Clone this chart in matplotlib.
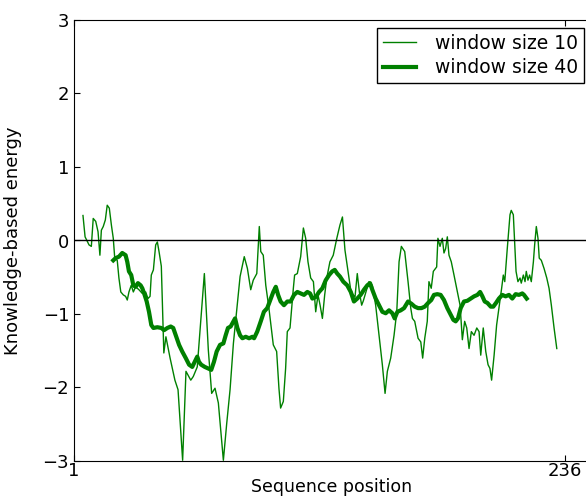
import numpy as np
import matplotlib
matplotlib.use('Agg')
import matplotlib.pyplot as plt

# sequence positions and energies
pos_w10 = [5.3, 6.3, 8.2, 9.3, 10.2, 11.4, 12.5, 13.4, 14.1, 15.0, 16.0, 16.9, 17.9, 18.9,
           19.8, 20.5, 21.7, 22.5, 23.4, 24.6, 25.7, 26.5, 27.3, 28.4, 29.4, 30.5, 32.1,
           33.7, 35.3, 36.4, 37.4, 38.0, 39.0, 40.1, 40.9, 41.7, 42.8, 44.0, 45.0, 47.0,
           49.3, 50.8, 53.0, 54.6, 56.9, 58.1, 60.0, 63.4, 65.3, 66.9, 68.5, 70.1, 72.5,
           74.1, 75.7, 77.3, 78.9, 80.5, 82.5, 84.0, 85.6, 86.8, 88.5, 89.7, 90.4, 91.6,
           92.8, 94.3, 96.4, 98.0, 99.1, 99.9, 101.2, 102.3, 103.1, 104.4, 106.0, 106.6,
           107.9, 109.5, 110.8, 111.9, 113.0, 114.3, 115.6, 116.7, 117.8, 118.8, 119.9,
           121.0, 122.0, 123.5, 125.1, 126.8, 128.3, 129.5, 130.7, 132.3, 133.6, 135.5,
           136.6, 137.6, 138.7, 139.5, 142.2, 143.8, 145.4, 147.0, 148.6, 149.9, 151.0,
           152.6, 154.2, 155.5, 156.6, 157.7, 159.3, 160.9, 162.2, 163.0, 164.1, 165.7,
           167.0, 167.9, 168.9, 170.1, 170.9, 172.0, 173.0, 174.6, 175.2, 176.2, 177.3,
           178.1, 178.9, 179.7, 180.5, 181.6, 182.9, 184.5, 185.8, 186.9, 188.0, 189.0,
           190.1, 191.2, 192.5, 193.8, 194.9, 195.7, 196.9, 198.1, 199.2, 200.1, 200.9,
           202.1, 203.3, 204.6, 205.7, 206.5, 207.2, 208.4, 209.7, 210.3, 211.3, 212.0,
           212.6, 213.5, 214.5, 215.1, 216.1, 216.9, 217.5, 218.3, 219.1, 219.9, 220.9,
           221.5, 222.3, 223.1, 223.7, 224.7, 226.0, 227.3, 228.4, 229.5, 230.8, 232.1]
energy_w10 = [0.34, 0.05, -0.06, -0.08, 0.30, 0.26, 0.12, -0.20, 0.14, 0.19, 0.28, 0.48, 0.44, 0.21,
              0.03, -0.24, -0.27, -0.51, -0.70, -0.74, -0.76, -0.81, -0.70, -0.61, -0.70, -0.63, -0.67,
              -0.72, -0.70, -0.79, -0.76, -0.47, -0.40, -0.06, -0.02, -0.15, -0.35, -1.53, -1.31, -1.60,
              -1.90, -2.03, -2.99, -1.78, -1.90, -1.85, -1.72, -0.45, -1.49, -2.08, -2.01, -2.21, -2.99,
              -2.49, -2.03, -1.40, -0.95, -0.49, -0.22, -0.38, -0.67, -0.54, -0.45, 0.19, -0.15, -0.20,
              -0.61, -0.92, -1.42, -1.51, -2.01, -2.28, -2.19, -1.74, -1.24, -1.19, -0.65, -0.47,
              -0.45, -0.22, 0.17, 0.03, -0.29, -0.51, -0.56, -0.97, -0.74, -0.88, -1.06,
              -0.74, -0.51, -0.29, -0.20, 0.03, 0.21, 0.32, -0.13, -0.45, -0.70, -0.77,
              -0.45, -0.70, -0.88, -0.82, -0.56, -0.61, -0.88, -1.29, -1.69, -2.08, -1.78,
              -1.60, -1.29, -0.97, -0.29, -0.08, -0.15, -0.56, -0.92, -1.06, -1.10, -1.33,
              -1.38, -1.60, -1.33, -1.10, -0.56, -0.65, -0.42, -0.36, 0.03, -0.08, 0.03,
              -0.17, -0.11, 0.05, -0.20, -0.29, -0.47, -0.70, -0.88, -1.35, -1.10, -1.19,
              -1.47, -1.24, -1.29, -1.19, -1.24, -1.56, -1.19, -1.51, -1.69, -1.74, -1.90,
              -1.56, -1.15, -0.88, -0.65, -0.47, -0.56, -0.11, 0.35, 0.41, 0.35, -0.06,
              -0.42, -0.56, -0.51, -0.58, -0.47, -0.56, -0.42, -0.54, -0.47, -0.56, -0.29,
              -0.06, 0.19, 0.03, -0.24, -0.27, -0.38, -0.51, -0.65, -0.88, -1.19, -1.47]

pos_w40 = [19.8, 20.9, 22.5, 24.1, 25.7, 26.5, 27.3, 28.4, 29.4, 30.5, 31.6, 32.9, 33.7, 34.8,
           35.8, 36.9, 38.0, 39.0, 40.9, 42.8, 44.1, 45.7, 47.3, 48.5, 49.7, 51.3, 52.8,
           54.5, 56.1, 57.6, 58.8, 60.0, 60.8, 61.9, 63.6, 65.1, 66.7, 68.0, 69.3, 70.9,
           72.5, 73.6, 74.7, 76.0, 77.3, 78.1, 79.2, 80.5, 81.6, 83.2, 84.8, 86.4, 87.2,
           88.7, 90.4, 91.9, 93.5, 95.2, 96.4, 97.6, 98.7, 99.9, 101.5, 103.1, 104.7,
           106.3, 107.9, 109.5, 111.1, 112.7, 114.0, 115.1, 116.7, 118.3, 119.9, 121.5,
           123.1, 124.6, 125.8, 127.0, 128.3, 129.9, 131.8, 133.5, 135.0, 136.6, 138.2,
           139.8, 141.4, 142.7, 143.8, 145.4, 147.0, 148.6, 150.2, 151.8, 153.4, 154.5,
           155.8, 157.4, 159.0, 160.9, 162.5, 164.1, 165.7, 167.3, 168.9, 170.5, 172.0,
           173.3, 174.9, 176.5, 178.1, 179.7, 181.3, 182.6, 183.7, 184.8, 186.1, 187.7,
           189.3, 190.9, 192.5, 194.1, 195.4, 196.5, 197.6, 198.9, 200.5, 201.7, 203.0,
           204.4, 206.0, 207.6, 209.2, 210.8, 212.4, 214.0, 215.6, 216.4, 217.7]
energy_w40 = [-0.27, -0.24, -0.22, -0.17, -0.20, -0.29, -0.42, -0.47, -0.61, -0.63, -0.58, -0.61, -0.65, -0.74,
              -0.83, -0.97, -1.15, -1.19, -1.18, -1.19, -1.22, -1.19, -1.17, -1.19, -1.29, -1.42, -1.51,
              -1.60, -1.69, -1.72, -1.65, -1.58, -1.65, -1.69, -1.72, -1.74, -1.76, -1.65, -1.51, -1.42,
              -1.40, -1.29, -1.19, -1.17, -1.10, -1.06, -1.19, -1.29, -1.33, -1.31, -1.33, -1.31, -1.33,
              -1.24, -1.10, -0.97, -0.92, -0.79, -0.70, -0.63, -0.74, -0.83, -0.88, -0.83, -0.83,
              -0.74, -0.70, -0.72, -0.74, -0.70, -0.72, -0.79, -0.77, -0.70, -0.65, -0.54,
              -0.47, -0.42, -0.40, -0.45, -0.49, -0.56, -0.61, -0.70, -0.83, -0.79, -0.74,
              -0.67, -0.61, -0.58, -0.67, -0.79, -0.88, -0.97, -0.99, -0.95, -0.99, -1.06,
              -0.97, -0.95, -0.92, -0.83, -0.86, -0.90, -0.92, -0.92, -0.90, -0.85, -0.81,
              -0.74, -0.73, -0.74, -0.81, -0.92, -1.01, -1.08, -1.10, -1.06, -0.92, -0.83,
              -0.82, -0.79, -0.76, -0.74, -0.70, -0.76, -0.83, -0.85, -0.90, -0.90, -0.85,
              -0.79, -0.74, -0.76, -0.74, -0.79, -0.73, -0.74, -0.72, -0.74, -0.79]

seq_len = 236

fig = plt.figure(figsize=(5.86, 4.98), dpi=100)
fig.patch.set_facecolor('white')
# right side of the axes runs past the picture edge, as in the reference
ax = fig.add_axes([74/586, 1 - 461/498, 516/586, 441/498])

ax.plot(pos_w10, energy_w10, color='green', linewidth=1, label='window size 10')
ax.plot(pos_w40, energy_w40, color='green', linewidth=3, label='window size 40')
ax.axhline(0, color='black', linewidth=1)

ax.set_xlim(1, 248)
ax.set_ylim(-3, 3)
ax.set_xticks([1, seq_len])
ax.set_yticks([-3, -2, -1, 0, 1, 2, 3])
ax.tick_params(direction='in', top=True, right=False, labelsize=13, length=4)
ax.tick_params(axis='x', pad=1)
ax.spines['right'].set_visible(False)
ax.set_xlabel('Sequence position', fontsize=12.5)
ax.xaxis.set_label_coords((332 - 74) / 516, -17 / 441)
ax.xaxis.label.set_verticalalignment('top')
ax.set_ylabel('Knowledge-based energy', fontsize=13)
ax.yaxis.set_label_coords(-(74 - 22) / 516, 0.5)

# legend box runs off the right edge like the cropped reference
ax.legend(loc='upper left', bbox_to_anchor=(377/586, 1 - 28/498), bbox_transform=fig.transFigure,
          fontsize=13.5, fancybox=False, edgecolor='black', borderaxespad=0, handlelength=1.8,
          handletextpad=1.0, labelspacing=0.3, borderpad=0.3, framealpha=1)

fig.savefig('out.png', dpi=100, facecolor='white')
